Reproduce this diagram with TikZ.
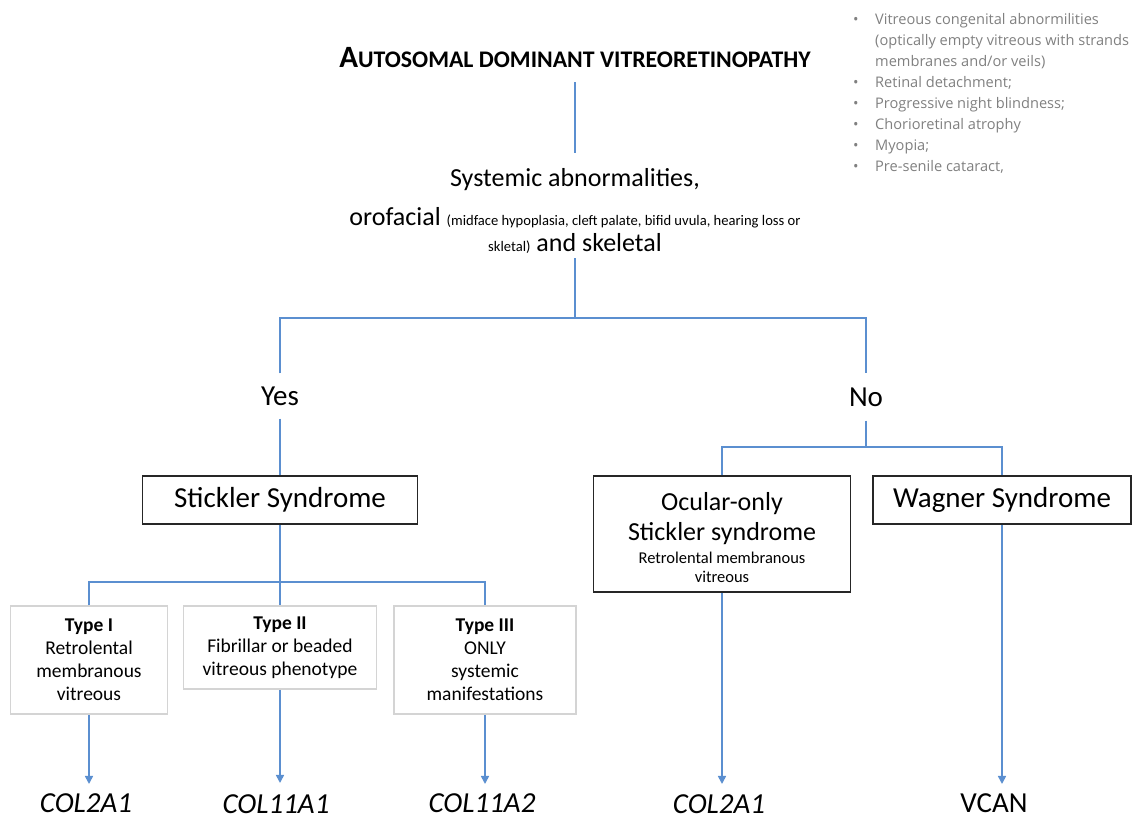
\documentclass[tikz,border=0pt]{standalone}
\usepackage{fontspec}
\setmainfont{Carlito}
\newfontfamily\notefont{Open Sans}
\usetikzlibrary{positioning,arrows.meta}

\definecolor{linkblue}{RGB}{91,143,208}
\definecolor{notegray}{RGB}{128,128,128}
\definecolor{typegray}{RGB}{212,212,212}

\tikzset{
  link/.style={draw=linkblue, line width=1.6pt},
  arrowlink/.style={link, -{Triangle[width=8pt,length=8pt]}},
  mainbox/.style={draw=black!85, line width=1.5pt, inner sep=0pt, align=center},
  typebox/.style={draw=typegray, line width=1.5pt, inner sep=0pt, align=center,
    font=\fontsize{19.5}{23}\selectfont},
  answer/.style={font=\fontsize{29}{34}\selectfont, minimum height=45pt, inner sep=0pt},
  gene/.style={font=\fontsize{29}{34}\selectfont, inner sep=0pt, anchor=base}
}

\begin{document}
\begin{tikzpicture}[x=1pt,y=-1pt]
  \useasboundingbox (0,0) rectangle (1141,820);

  % title and side notes
  \node (title) [anchor=base, inner sep=0pt] at (575,67)
    {\bfseries{\fontsize{31}{32}\selectfont A}{\fontsize{23.8}{26}\selectfont UTOSOMAL DOMINANT VITREORETINOPATHY}};
  \node (notes) [anchor=north west, align=left, inner sep=0pt, text=notegray,
    font=\notefont\fontsize{14.6}{21}\selectfont] at (853,13)
    {\makebox[22pt][l]{\textbullet}Vitreous congenital abnormilities\\
     \hspace*{22pt}(optically empty vitreous with strands\\
     \hspace*{22pt}membranes and/or veils)\\
     \makebox[22pt][l]{\textbullet}Retinal detachment;\\
     \makebox[22pt][l]{\textbullet}Progressive night blindness;\\
     \makebox[22pt][l]{\textbullet}Chorioretinal atrophy\\
     \makebox[22pt][l]{\textbullet}Myopia;\\
     \makebox[22pt][l]{\textbullet}Pre-senile cataract,};

  % question
  \node (sys) [align=center, inner sep=0pt, anchor=south,
    font=\fontsize{26}{26}\selectfont] at (575,254)
    {Systemic abnormalities,\\[13pt]
     orofacial {\fontsize{14.6}{15}\selectfont(midface hypoplasia, cleft palate, bifid uvula, hearing loss or}\\
     {\fontsize{14.6}{15}\selectfont skletal)} and skeletal};

  \coordinate (splitA) at (575,318);
  \node (yes) [answer] at (280,396) {Yes};
  \node (no) [answer, minimum height=47pt] at (866,397) {No};

  % yes branch
  \node (stickler) [mainbox, minimum width=275pt, minimum height=48pt,
    font=\fontsize{29}{34}\selectfont] at (280,500) {Stickler Syndrome};
  \coordinate (splitC) at (280,582);
  \node (typeI) [typebox, minimum width=157pt, minimum height=108pt] at (89,660)
    {\textbf{Type I}\\Retrolental\\membranous\\vitreous};
  \node (typeII) [typebox, minimum width=193pt, minimum height=83pt] at (280,647.5)
    {\textbf{Type II}\\Fibrillar or beaded\\vitreous phenotype};
  \node (typeIII) [typebox, minimum width=182pt, minimum height=108pt] at (485,660)
    {\textbf{Type III}\\ONLY\\systemic\\manifestations};

  % no branch
  \coordinate (splitB) at (866,447);
  \node (ocular) [mainbox, minimum width=257pt, minimum height=116pt,
    font=\fontsize{26}{30}\selectfont] at (722,534)
    {\rule{0pt}{26pt}Ocular-only\\Stickler syndrome\\[-7pt]
     {\fontsize{16.5}{19}\selectfont Retrolental membranous}\\[-11pt]
     {\fontsize{16.5}{19}\selectfont vitreous}};
  \node (wagner) [mainbox, minimum width=258pt, minimum height=48pt,
    font=\fontsize{29}{34}\selectfont] at (1002,500) {Wagner Syndrome};

  % genes
  \node (geneA) [gene] at (86,812) {\itshape COL2A1};
  \node (geneB) [gene] at (276,813) {\itshape COL11A1};
  \node (geneC) [gene] at (482,812) {\itshape COL11A2};
  \node (geneD) [gene] at (719,813) {\itshape COL2A1};
  \node (geneE) [gene] at (994,812) {VCAN};

  % connectors
  \draw [link, shorten <=15pt, shorten >=16pt] (title) -- (sys);
  \draw [link, shorten <=4pt] (sys) -- (splitA);
  \draw [link] (yes) |- (splitA) -| (no);
  \draw [link] (yes) -- (stickler);
  \draw [link] (stickler) -- (splitC);
  \draw [link] (typeI) |- (splitC) -| (typeIII);
  \draw [link] (splitC) -- (typeII);
  \draw [link] (no) -- (splitB);
  \draw [link] (ocular) |- (splitB) -| (wagner);

  \draw [arrowlink, shorten >=9pt] (typeI.south) -- (typeI.south |- geneA.north);
  \draw [arrowlink, shorten >=11pt] (typeII.south) -- (typeII.south |- geneB.north);
  \draw [arrowlink, shorten >=9pt] (typeIII.south) -- (typeIII.south |- geneC.north);
  \draw [arrowlink, shorten >=10pt] (ocular.south) -- (ocular.south |- geneD.north);
  \draw [arrowlink, shorten >=9pt] (wagner.south) -- (wagner.south |- geneE.north);
\end{tikzpicture}
\end{document}
